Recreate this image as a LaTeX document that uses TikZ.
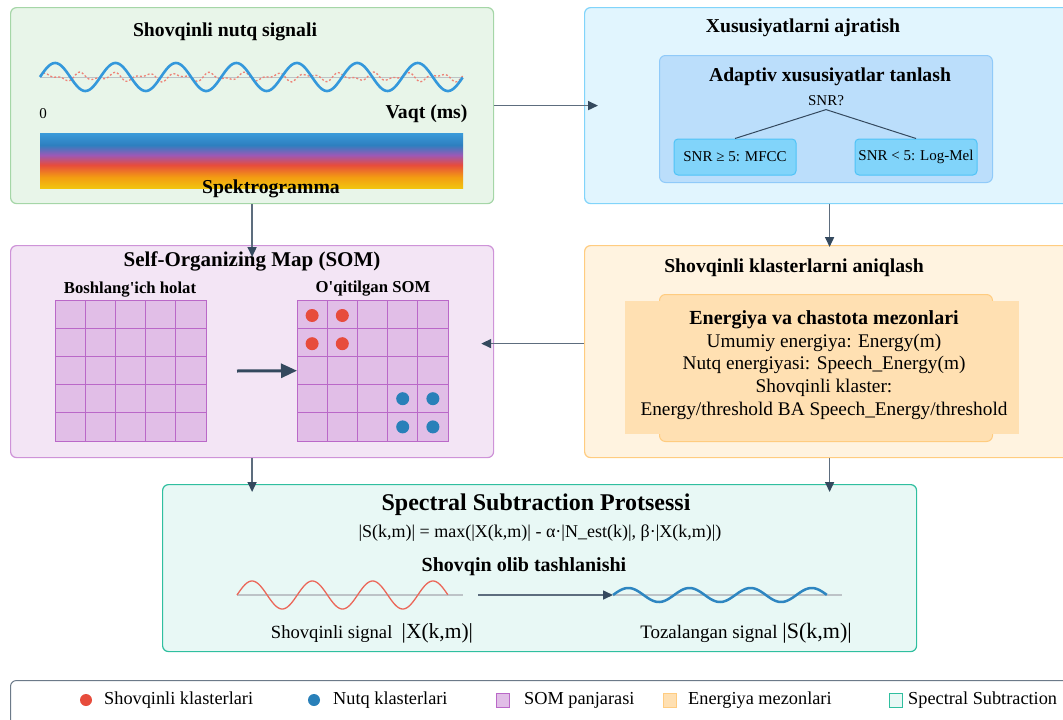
\documentclass[tikz,border=0pt]{standalone}
\usepackage{fontspec}
\setmainfont{Liberation Serif}
\usetikzlibrary{arrows.meta, positioning, calc}

\definecolor{grnF}{HTML}{E8F5E9}
\definecolor{grnB}{HTML}{A5D6A7}
\definecolor{bluF}{HTML}{E1F5FE}
\definecolor{bluB}{HTML}{81D4FA}
\definecolor{bluIn}{HTML}{BBDEFB}
\definecolor{bluInB}{HTML}{90CAF9}
\definecolor{bluBox}{HTML}{81D4FA}
\definecolor{bluBoxB}{HTML}{4FC3F7}
\definecolor{purF}{HTML}{F3E5F5}
\definecolor{purB}{HTML}{CE93D8}
\definecolor{cellF}{HTML}{E1BEE7}
\definecolor{cellB}{HTML}{BA68C8}
\definecolor{oraF}{HTML}{FFF3E0}
\definecolor{oraB}{HTML}{FFCC80}
\definecolor{oraIn}{HTML}{FFE0B2}
\definecolor{tealF}{HTML}{E8F8F5}
\definecolor{tealB}{HTML}{2FBF9F}
\definecolor{redD}{HTML}{E74C3C}
\definecolor{bluD}{HTML}{2980B9}
\definecolor{waveB}{HTML}{3498DB}
\definecolor{waveB2}{HTML}{2E86C1}
\definecolor{lineC}{HTML}{5D6D7E}
\definecolor{tipC}{HTML}{34495E}
\definecolor{baseC}{HTML}{BDC3C7}
\definecolor{legB}{HTML}{6C7A89}
% spektrogramma ranglari
\definecolor{spBlu}{HTML}{3A9AD9}
\definecolor{spBlu2}{HTML}{2E7FBF}
\definecolor{spPur}{HTML}{9B59B6}
\definecolor{spRed}{HTML}{E74C3C}
\definecolor{spOra}{HTML}{F39C12}
\definecolor{spYel}{HTML}{F1C40F}
\pgfdeclareverticalshading{specgrad}{100bp}{color(0bp)=(spYel); color(25bp)=(spYel); color(35bp)=(spOra); color(46bp)=(spRed); color(55bp)=(spPur); color(64bp)=(spBlu2); color(75bp)=(spBlu); color(100bp)=(spBlu)}

\newcommand{\fsz}[2]{\fontsize{#1}{#2}\selectfont}

\begin{document}
\begin{tikzpicture}[
		x=1pt, y=-1pt,
		panel/.style={draw, rounded corners=6pt, line width=1.2pt, anchor=north west, inner sep=0pt},
		ttl/.style={font=\fsz{19.7}{23}\bfseries},
		subttl/.style={font=\fsz{16.7}{19}\bfseries},
		conn/.style={draw=lineC, line width=1.6pt, -{Triangle[length=10pt, width=9pt, color=tipC]}},
		snrbox/.style={draw=bluBoxB, fill=bluBox, rounded corners=4pt, line width=1pt, minimum width=122pt, minimum height=36pt, font=\fsz{15}{17}},
		gridbox/.style={anchor=north west, inner sep=0pt, minimum width=151pt, minimum height=141pt},
		cell/.style={fill=cellF, draw=cellB, line width=0.8pt},
		legtxt/.style={anchor=west, font=\fsz{18.3}{21}, inner sep=0pt}
		]
		\useasboundingbox (0,0) rectangle (1063,720);
		\clip (0,0) rectangle (1063,720);
		
		% Panellar
		\node[panel, draw=grnB, fill=grnF, minimum width=483pt, minimum height=196pt] (sig) at (10,7) {};
		\node[panel, draw=bluB, fill=bluF, minimum width=490pt, minimum height=196pt] (feat) at (584,7) {};
		\node[panel, draw=purB, fill=purF, minimum width=483pt, minimum height=212pt] (som) at (10,245) {};
		\node[panel, draw=oraB, fill=oraF, minimum width=490pt, minimum height=212pt] (clus) at (584,245) {};
		\node[panel, draw=tealB, fill=tealF, minimum width=754pt, minimum height=167pt] (sub) at (162,484) {};
		\node[panel, draw=legB, fill=white, minimum width=1070pt, minimum height=60pt, line width=1pt] (leg) at (10,680) {};
		
		% Shovqinli signal
		\node[ttl] (sigT) at (225,32) {Shovqinli nutq signali};
		\draw[baseC, line width=1pt] (40,77) -- (463,77);
		\draw[redD!70, line width=1.3pt, dash pattern=on 2pt off 2pt] plot[domain=0:1, samples=300] ({40+423*\x}, {77-3*sin(13*360*\x)-2*sin(23*360*\x+40)});
		\draw[waveB, line width=2.6pt] plot[domain=0:1, samples=300] ({40+423*\x}, {77-14*sin(7*360*\x)});
		\node[font=\fsz{15}{17}] (t0) at (43,114) {0};
		\node[ttl, anchor=east] (tAx) at (471,114) {Vaqt (ms)};
		\shade[shading=specgrad] (40,133) rectangle (463,188);
		\node[ttl] (specT) at (271,189) {Spektrogramma};
		
		% Xususiyatlar
		\node[ttl] (featT) at (803,28) {Xususiyatlarni ajratish};
		\node[panel, draw=bluInB, fill=bluIn, line width=1pt, minimum width=333pt, minimum height=127pt] (adapt) at (659,55) {};
		\node[ttl] (adaptT) at (830,77) {Adaptiv xususiyatlar tanlash};
		\node[font=\fsz{15}{17}] (snrq) at (826,101) {SNR?};
		\node[snrbox] (snrHi) at (735,157) {SNR ≥ 5: MFCC};
		\node[snrbox] (snrLo) at (916,157) {SNR < 5: Log-Mel};
		\draw[tipC, line width=1pt] (snrq.south) -- (snrHi.north);
		\draw[tipC, line width=1pt] (snrq.south) -- (snrLo.north);
		
		% SOM
		\node[font=\fsz{21}{24}\bfseries] (somT) at (252,261) {Self-Organizing Map (SOM)};
		\node[subttl] (initT) at (130,290) {Boshlang\textquotesingle ich holat};
		\node[subttl] (trainT) at (373,289) {O\textquotesingle qitilgan SOM};
		\node[gridbox] (gInit) at (55,300) {};
		\node[gridbox] (gTrain) at (297,300) {};
		\foreach \g in {gInit, gTrain}
		\foreach \i in {0,...,4}
		\foreach \j in {0,...,4}
		\draw[cell] ($(\g.north west)+(\i*30.2,\j*28.2)$) rectangle +(30.2,28.2);
		\foreach \i/\j in {0/0, 1/0, 0/1, 1/1}
		\fill[redD] ($(gTrain.north west)+(\i*30.2+15.1,\j*28.2+15.5)$) circle (6.5pt);
		\foreach \i/\j in {3/3, 4/3, 3/4, 4/4}
		\fill[bluD] ($(gTrain.north west)+(\i*30.2+15.1,\j*28.2+14.1)$) circle (6.5pt);
		\coordinate (somA) at (237,371);
		\draw[draw=tipC, line width=3pt, -{Triangle[length=16pt, width=14pt]}] (somA) -- (gTrain.west);
		
		% Klasterlar
		\node[ttl] (clusT) at (794,268) {Shovqinli klasterlarni aniqlash};
		\node[panel, draw=oraB, fill=oraIn, line width=1pt, minimum width=333pt, minimum height=147pt] (crit) at (659,294) {};
		\fill[oraIn] (625,301) rectangle (1019,434);
		\node[align=center, font=\fsz{19.3}{22.8}] (critT) at (824,365) {{\fsz{20}{22.8}\bfseries Energiya va chastota mezonlari}\\Umumiy energiya: Energy(m)\\Nutq energiyasi: Speech\_Energy(m)\\Shovqinli klaster:\\Energy/threshold BA Speech\_Energy/threshold};
		
		% Spectral subtraction
		\node[font=\fsz{24}{28}\bfseries] (subT) at (536,505) {Spectral Subtraction Protsessi};
		\node[font=\fsz{18}{21}] (form) at (540,533) {|S(k,m)| = max(|X(k,m)| - α·|N\_est(k)|, β·|X(k,m)|)};
		\node[font=\fsz{20}{23}\bfseries] (remT) at (524,567) {Shovqin olib tashlanishi};
		\draw[baseC, line width=1.2pt] (237,595) -- (463,595);
		\draw[redD!85, line width=1.3pt] plot[domain=0:1, samples=200] ({237+211*\x}, {595-14*sin(3.5*360*\x)});
		\draw[baseC, line width=1.2pt] (613,595) -- (842,595);
		\draw[waveB2, line width=2.5pt] plot[domain=0:1, samples=200] ({613+214*\x}, {595-7*sin(3.5*360*\x)});
		\coordinate (noisyE) at (478,595);
		\coordinate (cleanS) at (613,595);
		\draw[conn] (noisyE) -- (cleanS);
		\node[font=\fsz{18.6}{21}] (noisyL) at (372,633) {Shovqinli signal\ \ {\fsz{21.5}{24}|X(k,m)|}};
		\node[font=\fsz{19}{21}] (cleanL) at (746,633) {Tozalangan signal {\fsz{22}{24}|S(k,m)|}};
		
		% Oqimlar
		\draw[conn] (sig.east) -- ([xshift=14pt]feat.west);
		\draw[conn] (sig.south) -- ([yshift=-12pt]som.north);
		\draw[conn] (feat.south) -- ([yshift=-2pt]clus.north);
		\draw[conn] ([yshift=8pt]clus.west) -- ([xshift=-13pt, yshift=8pt]som.east);
		\draw[conn, shorten >=-8pt] (som.south) -- (som.south |- sub.north);
		\draw[conn, shorten >=-8pt] (clus.south) -- (clus.south |- sub.north);
		
		% Legenda
		\fill[redD] (86,700) circle (6pt);
		\node[legtxt] (lg1) at (104,700) {Shovqinli klasterlari};
		\fill[bluD] (314,700) circle (6pt);
		\node[legtxt] (lg2) at (333,700) {Nutq klasterlari};
		\filldraw[fill=cellF, draw=cellB, line width=1pt] (496,693) rectangle (509,707);
		\node[legtxt] (lg3) at (524,700) {SOM panjarasi};
		\filldraw[fill=oraIn, draw=oraB, line width=1pt] (663,693) rectangle (676,707);
		\node[legtxt] (lg4) at (688,700) {Energiya mezonlari};
		\filldraw[fill=tealF, draw=tealB, line width=1pt] (889,693) rectangle (902,707);
		\node[legtxt] (lg5) at (908,700) {Spectral Subtraction};
		
	\end{tikzpicture}
\end{document}
